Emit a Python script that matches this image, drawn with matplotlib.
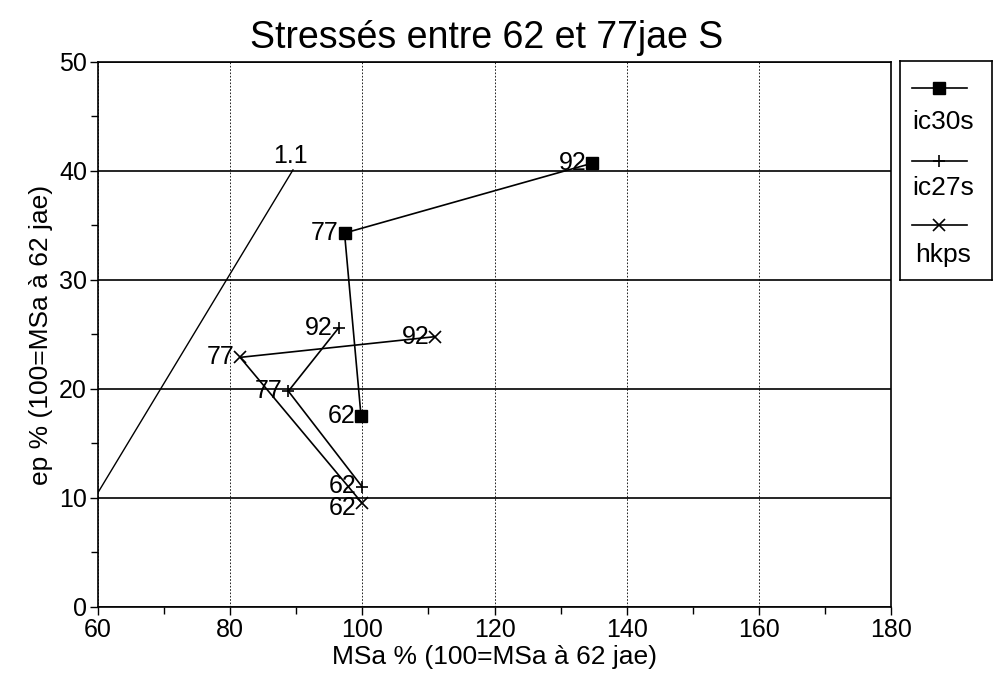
import matplotlib
matplotlib.use("Agg")
import matplotlib.pyplot as plt
from matplotlib.ticker import MultipleLocator

plt.rcParams['font.family'] = ['Liberation Sans', 'DejaVu Sans']

# Data
years = ["62", "77", "92"]
ic30s_x = [99.8, 97.3, 134.7]
ic30s_y = [17.5, 34.3, 40.7]
ic27s_x = [100.0, 88.8, 96.4]
ic27s_y = [11.0, 19.8, 25.6]
hkps_x = [100.0, 81.5, 111.0]
hkps_y = [9.5, 22.9, 24.8]
ref_x = [60.0, 89.5]
ref_y = [10.5, 40.1]
ref_label = "1.1"

series = [
    ("ic30s", ic30s_x, ic30s_y, dict(marker='s', ms=8, mfc='black', mec='black'), 0),
    ("ic27s", ic27s_x, ic27s_y, dict(marker='+', ms=9, mew=1.2), 1),
    ("hkps", hkps_x, hkps_y, dict(marker='x', ms=8, mew=1.2), -3),
]

fig = plt.figure(figsize=(9.93, 6.81), dpi=100)
ax = fig.add_axes([0.0987, 0.1087, 0.7987, 0.8003])

ax.set_xlim(60, 180)
ax.set_ylim(0, 50)
ax.xaxis.set_major_locator(MultipleLocator(20))
ax.xaxis.set_minor_locator(MultipleLocator(10))
ax.yaxis.set_major_locator(MultipleLocator(10))
ax.yaxis.set_minor_locator(MultipleLocator(5))
ax.tick_params(which='both', direction='out', labelsize=18, width=1.0, pad=2)
ax.tick_params(which='major', length=6)
ax.tick_params(which='minor', length=5)

# grid
ax.grid(axis='y', which='major', color='black', linewidth=1.2, linestyle='-')
ax.grid(axis='x', which='major', color='black', linewidth=0.6, linestyle=(0, (2, 2)))
ax.set_axisbelow(True)
for s in ax.spines.values():
    s.set_linewidth(1.2)

# reference line
ax.plot(ref_x, ref_y, color='black', linewidth=1.0)
ax.annotate(ref_label, (ref_x[-1], ref_y[-1]), xytext=(-2, 1), textcoords='offset points',
            ha='center', va='bottom', fontsize=18)

for name, xs, ys, st, dy in series:
    ax.plot(xs, ys, color='black', linewidth=1.2, **st)
    for i, (lab, x, y) in enumerate(zip(years, xs, ys)):
        off = dy if i == 0 else 0
        ax.annotate(lab, (x, y), xytext=(-4, off), textcoords='offset points',
                    ha='right', va='center', fontsize=18)

ax.set_title("Stressés entre 62 et 77jae S", fontsize=27, pad=10, x=0.49)
ax.set_xlabel("MSa % (100=MSa à 62 jae)", fontsize=19, labelpad=2)
ax.set_ylabel("ep % (100=MSa à 62 jae)", fontsize=19, labelpad=4)

# legend box (handle above label)
lax = fig.add_axes([0.9063, 0.5888, 0.0926, 0.3216])
lax.set_xlim(0, 1)
lax.set_ylim(0, 1)
lax.set_xticks([])
lax.set_yticks([])
for s in lax.spines.values():
    s.set_linewidth(1.2)
line_y = [0.877, 0.543, 0.251]
text_y = [0.721, 0.42, 0.114]
for (name, xs, ys, st, dy), ly, ty in zip(series, line_y, text_y):
    lax.plot([0.13, 0.73], [ly, ly], color='black', linewidth=1.2)
    lax.plot([0.43], [ly], color='black', linestyle='none', **st)
    lax.text(0.47, ty, name, ha='center', va='center', fontsize=19)

fig.savefig("out.png", dpi=100)
